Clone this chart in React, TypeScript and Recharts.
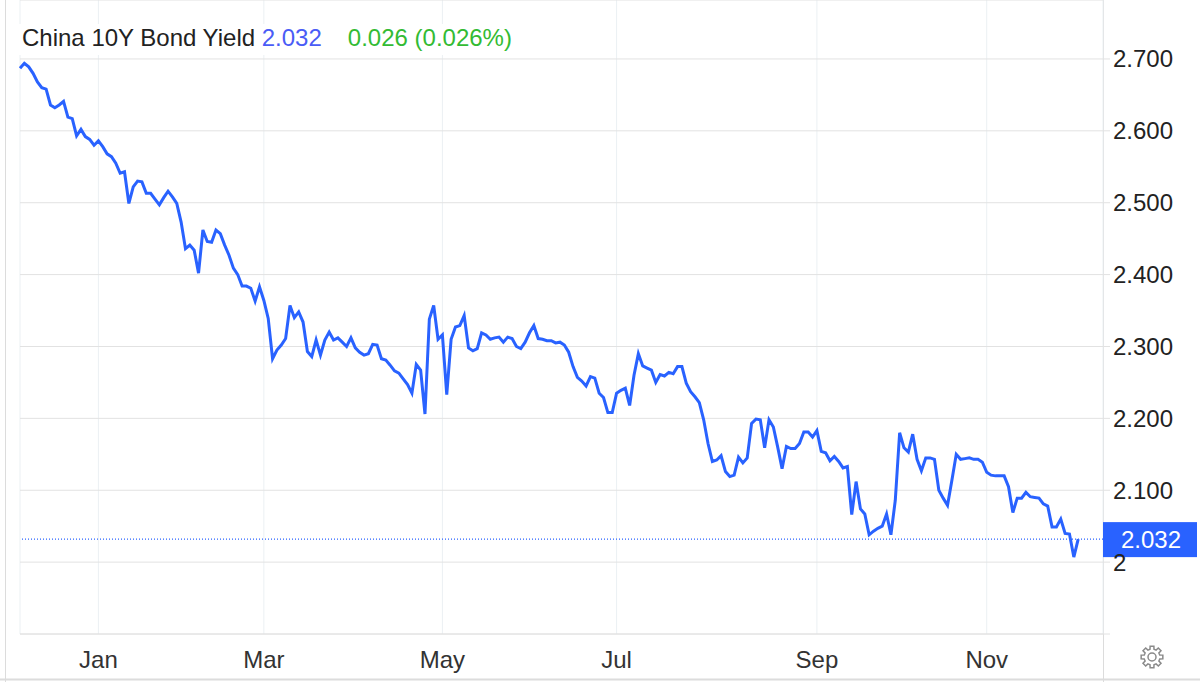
import React from 'react';
import { LineChart, Line, XAxis, YAxis, CartesianGrid, ReferenceLine } from 'recharts';

// One value per trading session
const yields: number[] = [
  2.687, 2.694, 2.689, 2.680, 2.668, 2.660, 2.658, 2.636, 2.632, 2.636,
  2.641, 2.619, 2.617, 2.593, 2.602, 2.592, 2.588, 2.580, 2.586, 2.578,
  2.568, 2.564, 2.555, 2.541, 2.543, 2.499, 2.522, 2.530, 2.529, 2.513,
  2.513, 2.505, 2.497, 2.507, 2.516, 2.508, 2.499, 2.473, 2.436, 2.441,
  2.434, 2.402, 2.462, 2.446, 2.445, 2.462, 2.457, 2.441, 2.427, 2.409,
  2.400, 2.384, 2.384, 2.381, 2.363, 2.383, 2.364, 2.339, 2.283, 2.295,
  2.302, 2.311, 2.357, 2.340, 2.348, 2.334, 2.293, 2.286, 2.309, 2.288,
  2.309, 2.320, 2.309, 2.312, 2.306, 2.300, 2.312, 2.298, 2.292, 2.288,
  2.290, 2.303, 2.302, 2.283, 2.281, 2.274, 2.266, 2.263, 2.255, 2.247,
  2.235, 2.275, 2.267, 2.206, 2.338, 2.357, 2.310, 2.316, 2.233, 2.310,
  2.327, 2.329, 2.343, 2.298, 2.294, 2.297, 2.319, 2.316, 2.310, 2.312,
  2.313, 2.306, 2.313, 2.311, 2.300, 2.297, 2.306, 2.319, 2.329, 2.311,
  2.310, 2.308, 2.308, 2.305, 2.306, 2.302, 2.292, 2.272, 2.257, 2.252,
  2.245, 2.258, 2.256, 2.235, 2.229, 2.208, 2.208, 2.235, 2.239, 2.242,
  2.218, 2.260, 2.290, 2.273, 2.270, 2.267, 2.250, 2.261, 2.259, 2.264,
  2.262, 2.272, 2.272, 2.249, 2.237, 2.230, 2.222, 2.198, 2.165, 2.140,
  2.142, 2.148, 2.126, 2.119, 2.121, 2.146, 2.138, 2.145, 2.193, 2.199,
  2.198, 2.159, 2.198, 2.188, 2.160, 2.130, 2.161, 2.158, 2.158, 2.165,
  2.181, 2.181, 2.174, 2.183, 2.154, 2.152, 2.141, 2.147, 2.140, 2.131,
  2.133, 2.066, 2.112, 2.074, 2.067, 2.038, 2.043, 2.047, 2.050, 2.067,
  2.038, 2.086, 2.180, 2.159, 2.153, 2.178, 2.143, 2.127, 2.145, 2.145,
  2.143, 2.100, 2.089, 2.079, 2.114, 2.150, 2.143, 2.144, 2.145, 2.143,
  2.143, 2.139, 2.125, 2.121, 2.120, 2.120, 2.120, 2.105, 2.069, 2.089,
  2.089, 2.097, 2.091, 2.090, 2.089, 2.081, 2.078, 2.049, 2.049, 2.060,
  2.040, 2.039, 2.007, 2.032,
];

const monthLabels: string[] = ['Jan', 'Mar', 'May', 'Jul', 'Sep', 'Nov'];
const monthStartSession: number[] = [18, 56, 97, 137, 183, 222];
const yTicks: number[] = [1.9, 2.0, 2.1, 2.2, 2.3, 2.4, 2.5, 2.6, 2.7];
const seriesName = 'China 10Y Bond Yield';
const lastValue = 2.032;
const change = 0.026;
const changePct = 0.026;

const data = yields.map((v, i) => ({ session: i, value: v }));

const FONT = '"Liberation Sans", Arial, sans-serif';
const LINE_BLUE = '#2962ff';
const GRID_H = '#e2e2e2';
const GRID_V = '#ebf0f3';

const fmtY = (v: number) => {
  if (Math.abs(v - 1.9) < 1e-6) return '';
  if (Math.abs(v - 2) < 1e-6) return '2';
  return v.toFixed(3);
};
const fmtX = (v: number) => {
  const i = monthStartSession.indexOf(v);
  return i >= 0 ? monthLabels[i] : '';
};

function PriceTag(props: any) {
  const vb = props.viewBox || {};
  const x = vb.x + vb.width;
  const y = vb.y;
  return (
    <g>
      <rect x={x} y={y - 17} width={94} height={35} fill={LINE_BLUE} />
      <text x={x + 48} y={y} dy="0.36em" textAnchor="middle" fill="#fff" fontSize={24} fontFamily={FONT}>
        {lastValue.toFixed(3)}
      </text>
    </g>
  );
}

function gearPath(cx: number, cy: number, rOut: number, rIn: number, teeth: number) {
  const pts: string[] = [];
  const step = (Math.PI * 2) / teeth;
  for (let k = 0; k < teeth; k++) {
    const a = k * step;
    const a1 = a - step * 0.22;
    const a2 = a + step * 0.22;
    const b1 = a + step * 0.32;
    const b2 = a + step * 0.68;
    pts.push(`${cx + rOut * Math.cos(a1)},${cy + rOut * Math.sin(a1)}`);
    pts.push(`${cx + rOut * Math.cos(a2)},${cy + rOut * Math.sin(a2)}`);
    pts.push(`${cx + rIn * Math.cos(b1)},${cy + rIn * Math.sin(b1)}`);
    pts.push(`${cx + rIn * Math.cos(b2)},${cy + rIn * Math.sin(b2)}`);
  }
  return 'M' + pts.join('L') + 'Z';
}

export default function App() {
  return (
    <div style={{ position: 'absolute', left: 0, top: 0, width: 1200, height: 682, background: '#fff' }}>
      <svg width={1200} height={682} style={{ position: 'absolute', left: 0, top: 0 }}>
        <line x1={5.5} y1={0} x2={5.5} y2={682} stroke="#dcdcdc" />
        <line x1={1103.5} y1={0} x2={1103.5} y2={682} stroke="#dcdcdc" />
        <line x1={0} y1={679.5} x2={1200} y2={679.5} stroke="#dcdcdc" strokeWidth={2} />
        <path d={gearPath(1152, 657, 11, 8, 8)} fill="none" stroke="#8a8a8a" strokeWidth={1.5} />
        <circle cx={1152} cy={657} r={4} fill="none" stroke="#8a8a8a" strokeWidth={1.5} />
      </svg>
      <div style={{ position: 'absolute', left: 0, top: 0 }}>
        <LineChart width={1200} height={682} data={data} margin={{ top: 0, right: 0, bottom: 0, left: 20 }}>
          <CartesianGrid horizontal={false} stroke={GRID_V} />
          <CartesianGrid vertical={false} stroke={GRID_H} />
          <XAxis
            dataKey="session"
            type="number"
            domain={[0, 248.7]}
            ticks={monthStartSession}
            tickFormatter={fmtX}
            interval={0}
            height={48}
            axisLine={{ stroke: GRID_H }}
            tickLine={false}
            tickSize={0}
            tickMargin={17}
            tick={{ fontSize: 24, fill: '#333', fontFamily: FONT }}
          />
          <YAxis
            orientation="right"
            width={97}
            type="number"
            domain={[1.9, 2.782]}
            ticks={yTicks}
            tickFormatter={fmtY}
            interval={0}
            axisLine={false}
            tickLine={{ stroke: GRID_H }}
            tickSize={7}
            tickMargin={3}
            tick={{ fontSize: 24, fill: '#222', fontFamily: FONT, textAnchor: 'start' }}
          />
          <ReferenceLine y={lastValue} stroke={LINE_BLUE} strokeWidth={1.2} strokeDasharray="1 2" label={<PriceTag />} />
          <Line
            type="linear"
            dataKey="value"
            stroke={LINE_BLUE}
            strokeWidth={3}
            dot={false}
            isAnimationActive={false}
          />
        </LineChart>
      </div>
      <svg width={1200} height={60} style={{ position: 'absolute', left: 0, top: 0, pointerEvents: 'none' }}>
        <rect x={18} y={24} width={504} height={31} fill="#fff" />
        <text x={22} y={46} fontSize={24} fontFamily={FONT} fill="#222">
          <tspan>{seriesName} </tspan>
          <tspan fill="#4a5cf6">{lastValue.toFixed(3)}</tspan>
          <tspan dx={26} fill="#33bb33">{`${change.toFixed(3)} (${changePct.toFixed(3)}%)`}</tspan>
        </text>
      </svg>
    </div>
  );
}
